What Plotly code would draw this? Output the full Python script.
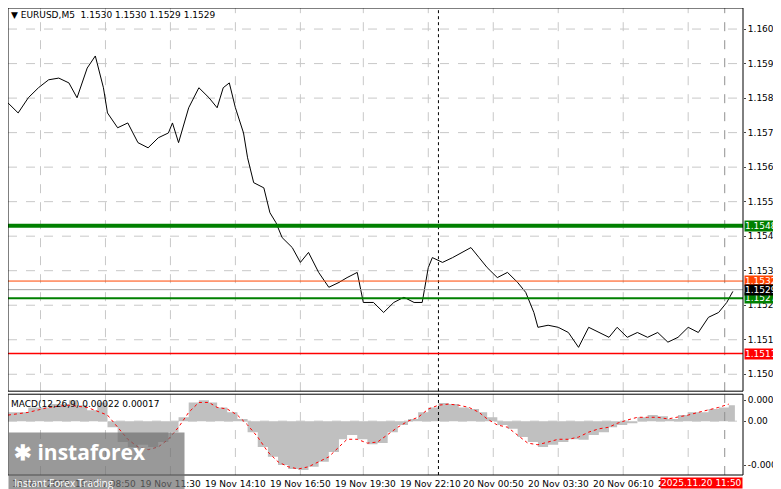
import plotly.graph_objects as go

price_x = [0,5,10,15,20,25,30,34,39,43,47,49,54,59,64,69,74,79,81,84,89,94,99,103,106,109,112,116,118,121,126,129,132,135,140,144,148,153,158,163,167,172,175,180,185,190,195,200,204,207,209,214,219,224,228,232,236,241,246,251,255,259,261,266,271,276,281,286,291,296,300,305,310,315,320,325,330,335,340,345,350,354,357]
price = [1.15836,1.15807,1.15851,1.15880,1.15903,1.15908,1.15894,1.15851,1.15937,1.15972,1.15880,1.15807,1.15764,1.15778,1.15721,1.15706,1.15735,1.15749,1.15778,1.15721,1.15822,1.15880,1.15851,1.15822,1.15880,1.15894,1.15822,1.15749,1.15677,1.15605,1.15590,1.15518,1.15489,1.15446,1.15417,1.15374,1.15403,1.15345,1.15302,1.15316,1.15330,1.15345,1.15258,1.15258,1.15229,1.15258,1.15273,1.15258,1.15258,1.15359,1.15388,1.15374,1.15388,1.15403,1.15417,1.15388,1.15359,1.15330,1.15345,1.15316,1.15287,1.15229,1.15186,1.15192,1.15186,1.15171,1.15128,1.15186,1.15171,1.15157,1.15186,1.15157,1.15171,1.15157,1.15171,1.15143,1.15157,1.15186,1.15171,1.15215,1.15229,1.15258,1.15290]

hist_x = [0,10,20,30,34,39,44,49,54,59,64,69,74,79,84,89,94,99,103,108,113,118,123,128,133,138,143,148,153,158,163,167,172,177,182,187,192,197,202,207,212,217,222,227,232,236,241,246,251,256,261,266,271,276,281,286,291,296,300,305,310,315,320,325,330,335,340,345,350,355,358]
hist = [16,25,31,38,29,20,34,-11,-38,-47,-43,-47,-38,-20,7,34,38,34,25,16,4,-20,-47,-65,-80,-87,-89,-83,-74,-56,-33,-25,-33,-42,-40,-20,-7,4,16,25,33,31,25,22,16,7,-7,-14,-29,-38,-47,-43,-38,-33,-34,-25,-20,-11,-7,-4,7,11,9,4,11,16,16,22,25,29,33]
sig_x = [0,10,20,30,39,49,54,59,64,69,74,79,84,89,94,99,103,108,113,118,123,128,133,138,143,148,153,158,163,167,172,177,182,187,192,197,202,207,212,217,222,227,232,236,241,246,251,256,261,266,271,276,281,286,291,296,300,305,310,315,320,325,330,335,340,345,350,355]
signal = [11,16,25,29,25,11,-11,-33,-47,-52,-47,-33,-11,16,34,34,25,22,11,-7,-29,-56,-74,-83,-87,-83,-74,-65,-47,-33,-33,-40,-38,-25,-11,0,7,22,29,31,29,25,16,4,-7,-11,-25,-40,-43,-38,-33,-33,-29,-20,-14,-11,-4,2,7,7,7,4,7,11,16,20,25,31]
assert len(price_x)==len(price) and len(hist_x)==len(hist) and len(sig_x)==len(signal)

price_ticks = [1.1505,1.1515,1.1525,1.1535,1.1545,1.1555,1.1565,1.1575,1.1585,1.1595,1.1605]
time_pos = [1,32,64,96,128,160,192,223,255,287,319]
time_lbl = ["19 Nov 2025","19 Nov 08:50","19 Nov 11:30","19 Nov 14:10","19 Nov 16:50","19 Nov 19:30","19 Nov 22:10","20 Nov 00:50","20 Nov 03:30","20 Nov 06:10","20 Nov 08:50"]
grid_pos = [16,48,80,112,144,175,207,239,271,303,335]
levels = [(1.1548,"#008000",4,"1.1548"),(1.1527,"#008000",2,"1.1527"),(1.1511,"#ff0000",1.5,"1.1511"),(1.1532,"#ff4500",1,"1.1532"),(1.15295,"#a0a0a0",1,"1.1529")]

F = "DejaVu Sans"
FS = 9
fig = go.Figure()
fig.add_trace(go.Scatter(x=hist_x, y=[v*1e-5 for v in hist], xaxis="x2", yaxis="y2", mode="lines",
    line=dict(color="#c0c0c0", width=0, shape="hv"), fill="tozeroy", fillcolor="#c0c0c0"))
fig.add_trace(go.Scatter(x=sig_x, y=[v*1e-5 for v in signal], xaxis="x2", yaxis="y2", mode="lines",
    line=dict(color="#ff0000", width=1, dash="dot")))
fig.add_trace(go.Scatter(x=price_x, y=price, mode="lines", line=dict(color="black", width=1)))

shapes = []
for g in grid_pos:
    for ya in ("y", "y2"):
        shapes.append(dict(type="line", xref="x", yref=ya+" domain", x0=g, x1=g, y0=0, y1=1,
                           line=dict(color="#c8c8c8", width=1, dash="dash"), layer="below"))
for p in price_ticks:
    shapes.append(dict(type="line", xref="paper", yref="y", x0=0, x1=1, y0=p, y1=p,
                       line=dict(color="#c8c8c8", width=1, dash="dash"), layer="below"))
shapes.append(dict(type="line", xref="paper", yref="y2", x0=0, x1=1, y0=0, y1=0, line=dict(color="#c8c8c8", width=1, dash="dash"), layer="below"))
for ya in ("y", "y2"):
    shapes.append(dict(type="line", xref="x", yref=ya+" domain", x0=212, x1=212, y0=0, y1=1, line=dict(color="black", width=1, dash="dot")))
    shapes.append(dict(type="line", xref="x", yref=ya+" domain", x0=353, x1=353, y0=0, y1=1, line=dict(color="#909090", width=1, dash="dash")))
anns = []
for lv, c, w, t in levels:
    shapes.append(dict(type="line", xref="paper", yref="y", x0=0, x1=1, y0=lv, y1=lv, line=dict(color=c, width=w)))
    bg = "#000000" if t == "1.1529" else c
    anns.append(dict(x=1.0, xref="paper", y=lv, yref="y", text=t, showarrow=False, xanchor="left", xshift=1,
                     bgcolor=bg, font=dict(color="white", size=FS, family=F), borderpad=0))
for ya in ("y", "y2"):
    shapes.append(dict(type="rect", xref="paper", yref=ya+" domain", x0=0, x1=1, y0=0, y1=1, line=dict(color="black", width=1)))

for p, l in zip(time_pos, time_lbl):
    anns.append(dict(x=p, xref="x", y=0, yref="paper", yshift=-2, text=l, showarrow=False, xanchor="left", yanchor="top",
                     font=dict(size=FS, family=F, color="black")))
anns.append(dict(x=1, xref="paper", y=0, yref="paper", yshift=-2, text="2025.11.20 11:50", showarrow=False, xanchor="right", yanchor="top",
                 bgcolor="#ff0000", font=dict(size=FS, family=F, color="white"), borderpad=0))
anns.append(dict(x=0.002, xref="paper", y=1, yref="paper", text="▼ EURUSD,M5  1.1530 1.1530 1.1529 1.1529", showarrow=False,
                 xanchor="left", yanchor="top", font=dict(size=FS, family=F, color="black")))
anns.append(dict(x=0.002, xref="paper", y=0.173, yref="paper", yshift=-3, text="MACD(12,26,9) 0.00022 0.00017", showarrow=False,
                 xanchor="left", yanchor="top", font=dict(size=FS, family=F, color="black")))
anns.append(dict(x=0, xref="paper", y=-0.045, yref="paper", text="<b>✱ instaforex</b><br><span style='font-size:10px'>Instant Forex Trading</span>",
                 showarrow=False, xanchor="left", yanchor="bottom", align="left", bgcolor="rgba(110,110,110,0.7)",
                 font=dict(size=21, family="Open Sans", color="white"), borderpad=5, width=165))

fig.update_layout(
    width=781, height=489, margin=dict(l=0, r=46, t=0, b=22), showlegend=False,
    paper_bgcolor="white", plot_bgcolor="white", shapes=shapes, annotations=anns,
    xaxis=dict(range=[0, 362], showticklabels=False, showgrid=False, zeroline=False, anchor="y"),
    xaxis2=dict(range=[0, 362], matches="x", showticklabels=False, showgrid=False, zeroline=False, anchor="y2"),
    yaxis=dict(domain=[0.1795, 1], range=[1.15001, 1.16111], side="right", tickvals=price_ticks, tickformat=".4f",
               showgrid=False, zeroline=False, ticks="outside", ticklen=2, tickfont=dict(size=FS, family=F, color="black")),
    yaxis2=dict(domain=[0, 0.173], range=[-0.00098, 0.00049], side="right", tickvals=[0.00038, 0, -0.0008],
                ticktext=["0.00038", "0.00", "-0.0008"], showgrid=False, zeroline=False, ticks="outside", ticklen=2,
                tickfont=dict(size=FS, family=F, color="black")),
)
fig.write_html("out.html")
